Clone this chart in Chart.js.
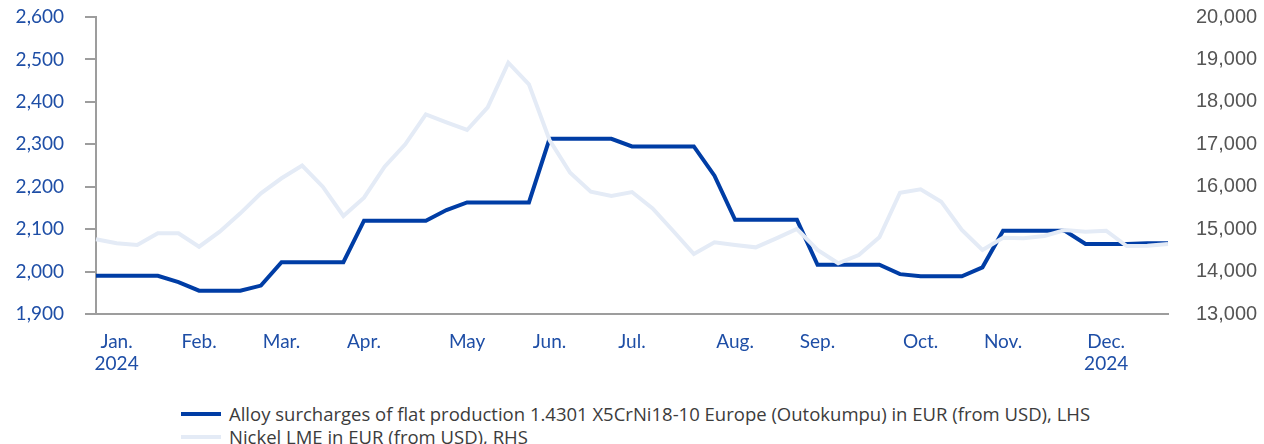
<!DOCTYPE html>
<html>
<head>
<meta charset="utf-8">
<script src="https://cdn.jsdelivr.net/npm/chart.js@4.4.1/dist/chart.umd.min.js"></script>
<style>
  body { margin: 0; background: #fff; }
  #wrap { position: relative; width: 1264px; height: 444px; overflow: hidden; }
  #box { position: absolute; left: 0; top: 0; width: 1264px; height: 390px; }
  #legend { position: absolute; left: 181px; top: 402px; font-family: "Open Sans", sans-serif; font-size: 18.5px; color: #3c3c3c; }
  .row { display: flex; align-items: center; height: 23px; white-space: nowrap; }
  .swatch { width: 40px; height: 4px; margin-right: 8px; }
</style>
</head>
<body>
<div id="wrap">
  <div id="box"><canvas id="myChart"></canvas></div>
  <div id="legend"></div>
</div>
<script>
// Weekly values, Jan. 2024 - Dec. 2024
var surcharge = [
  1990, 1990, 1990, 1990, 1975, 1955, 1955, 1955, 1967, 2022,
  2022, 2022, 2022, 2120, 2120, 2120, 2120, 2145, 2163, 2163,
  2163, 2163, 2313, 2313, 2313, 2313, 2295, 2295, 2295, 2295,
  2226, 2122, 2122, 2122, 2122, 2016, 2016, 2016, 2016, 1994,
  1989, 1989, 1989, 2010, 2096, 2096, 2096, 2096, 2065, 2065,
  2065, 2067, 2067
];
var nickel = [
  14760, 14666, 14626, 14902, 14902, 14586, 14940, 15373, 15845, 16199,
  16497, 16000, 15310, 15741, 16471, 17000, 17706, 17518, 17337, 17872,
  18923, 18413, 17100, 16330, 15882, 15781, 15875, 15490, 14956, 14414,
  14690, 14626, 14571, 14784, 15003, 14508, 14195, 14390, 14807, 15859,
  15938, 15647, 14980, 14508, 14799, 14784, 14838, 14980, 14940, 14964,
  14603, 14611, 14650
];
var monthLabels = [['Jan.', '2024'], 'Feb.', 'Mar.', 'Apr.', 'May', 'Jun.', 'Jul.', 'Aug.', 'Sep.', 'Oct.', 'Nov.', ['Dec.', '2024']];
var monthWeeks = [1, 5, 9, 13, 18, 22, 26, 31, 35, 40, 44, 49];
var seriesNames = [
  'Alloy surcharges of flat production 1.4301 X5CrNi18-10 Europe (Outokumpu) in EUR (from USD), LHS',
  'Nickel LME in EUR (from USD), RHS'
];
var seriesColors = ['#003da5', '#e4ebf6'];

// one category per week, month name on the week where it is printed
var labels = surcharge.map(function (v, i) {
  var k = monthWeeks.indexOf(i);
  return k >= 0 ? monthLabels[k] : '';
});

var blueText = '#1e4ea6';
var greyLine = '#9d9d9d';

var ctx = document.getElementById('myChart').getContext('2d');
var myChart = new Chart(ctx, {
  type: 'line',
  data: {
    labels: labels,
    datasets: [{
      label: seriesNames[0],
      data: surcharge,
      borderColor: seriesColors[0],
      borderWidth: 4,
      pointRadius: 0,
      tension: 0,
      yAxisID: 'y',
      order: 1
    }, {
      label: seriesNames[1],
      data: nickel,
      borderColor: seriesColors[1],
      borderWidth: 4,
      pointRadius: 0,
      tension: 0,
      yAxisID: 'y2',
      order: 0
    }]
  },
  options: {
    responsive: true,
    maintainAspectRatio: false,
    animation: false,
    layout: { padding: { top: 17, left: 0, right: 0, bottom: 0 } },
    plugins: { legend: { display: false }, tooltip: { enabled: false } },
    scales: {
      x: {
        offset: false,
        grid: { display: false, drawTicks: false },
        border: { display: true, color: greyLine, width: 2 },
        ticks: {
          autoSkip: false,
          maxRotation: 0,
          padding: 16,
          color: blueText,
          font: { family: 'Lato', size: 19 }
        },
        afterFit: function (scale) { scale.height = 76; }
      },
      y: {
        position: 'left',
        min: 1900,
        max: 2600,
        grid: { drawOnChartArea: false, drawTicks: true, tickLength: 11, color: greyLine, lineWidth: 2 },
        border: { display: true, color: greyLine, width: 2 },
        ticks: {
          stepSize: 100,
          padding: 21,
          color: blueText,
          font: { family: 'Lato', size: 19 },
          callback: function (value) { return value.toLocaleString('en-US'); }
        },
        afterFit: function (scale) {
          scale.width = 96;
          scale.paddingTop = 0;
          scale.paddingBottom = 0;
        }
      },
      y2: {
        position: 'right',
        min: 13000,
        max: 20000,
        grid: { display: false, drawTicks: false },
        border: { display: false },
        ticks: {
          stepSize: 1000,
          padding: 28,
          color: '#555555',
          font: { family: 'Liberation Sans', size: 20 },
          callback: function (value) { return value.toLocaleString('en-US'); }
        },
        afterFit: function (scale) {
          scale.width = 96;
          scale.paddingTop = 0;
          scale.paddingBottom = 0;
        }
      }
    }
  }
});

// legend below the chart, rows left aligned
var legend = document.getElementById('legend');
seriesNames.forEach(function (name, i) {
  var row = document.createElement('div');
  row.className = 'row';
  var sw = document.createElement('span');
  sw.className = 'swatch';
  sw.style.background = seriesColors[i];
  var tx = document.createElement('span');
  tx.textContent = name;
  row.appendChild(sw);
  row.appendChild(tx);
  legend.appendChild(row);
});
</script>
</body>
</html>
